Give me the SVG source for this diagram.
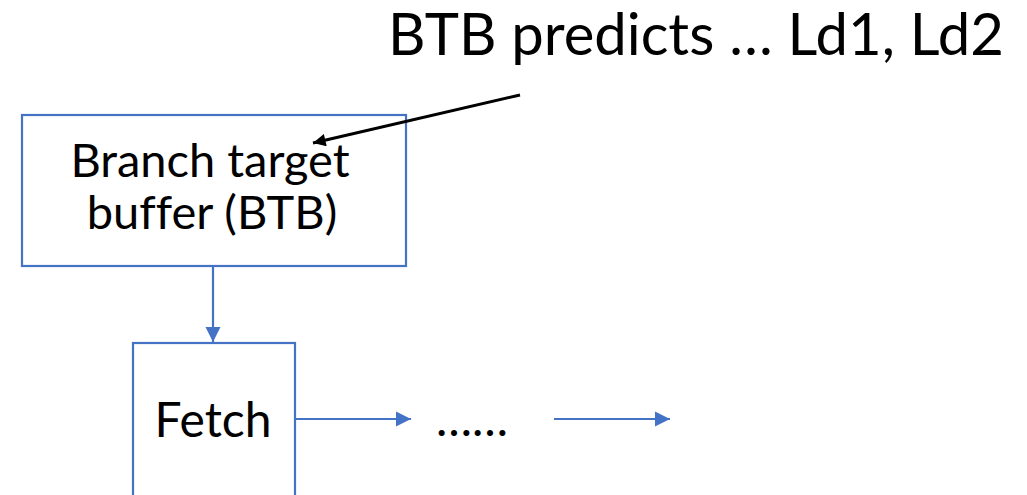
<svg xmlns="http://www.w3.org/2000/svg" width="1027" height="495" viewBox="0 0 1027 495">
  <style>
    .box { fill: #ffffff; stroke: #4472C4; stroke-width: 2.2; }
    .flow { fill: none; stroke: #4472C4; stroke-width: 2.2; }
    .note { fill: none; stroke: #000000; stroke-width: 3; }
    .lbl { font-family: Lato, "Open Sans", "Liberation Sans", sans-serif; fill: #000000; text-anchor: middle; font-variant-ligatures: none; }
  </style>
  <defs>
    <marker id="blueHead" viewBox="0 0 10 10" refX="10" refY="5" markerWidth="7" markerHeight="7" markerUnits="strokeWidth" orient="auto">
      <path d="M0,0 L10,5 L0,10 Z" fill="#4472C4"/>
    </marker>
    <marker id="blackHead" viewBox="0 0 10 10" refX="10" refY="5" markerWidth="5" markerHeight="4.2" markerUnits="strokeWidth" orient="auto">
      <path d="M0,0 L10,5 L0,10 Z" fill="#000000"/>
    </marker>
  </defs>

  <rect width="1027" height="495" fill="#ffffff"/>

  <!-- caption -->
  <text class="lbl" x="696" y="55" font-size="58">BTB predicts … Ld1, Ld2</text>

  <g id="btb">
    <rect class="box" x="22" y="115" width="384" height="151"/>
    <text class="lbl" x="210" y="177" font-size="47">Branch target</text>
    <text class="lbl" x="212" y="229" font-size="47">buffer (BTB)</text>
  </g>

  <g id="fetch">
    <rect class="box" x="133" y="343" width="162" height="160"/>
    <text class="lbl" x="213" y="437" font-size="48">Fetch</text>
  </g>

  <g id="ellipsis">
    <text class="lbl" x="472" y="436" font-size="48">……</text>
  </g>

  <g id="connectors">
    <line class="flow" x1="213" y1="267" x2="213" y2="342" marker-end="url(#blueHead)"/>
    <line class="flow" x1="296" y1="419" x2="411" y2="419" marker-end="url(#blueHead)"/>
    <line class="flow" x1="554" y1="419" x2="670" y2="419" marker-end="url(#blueHead)"/>
    <line class="note" x1="520" y1="95" x2="313" y2="143" marker-end="url(#blackHead)"/>
  </g>
</svg>
